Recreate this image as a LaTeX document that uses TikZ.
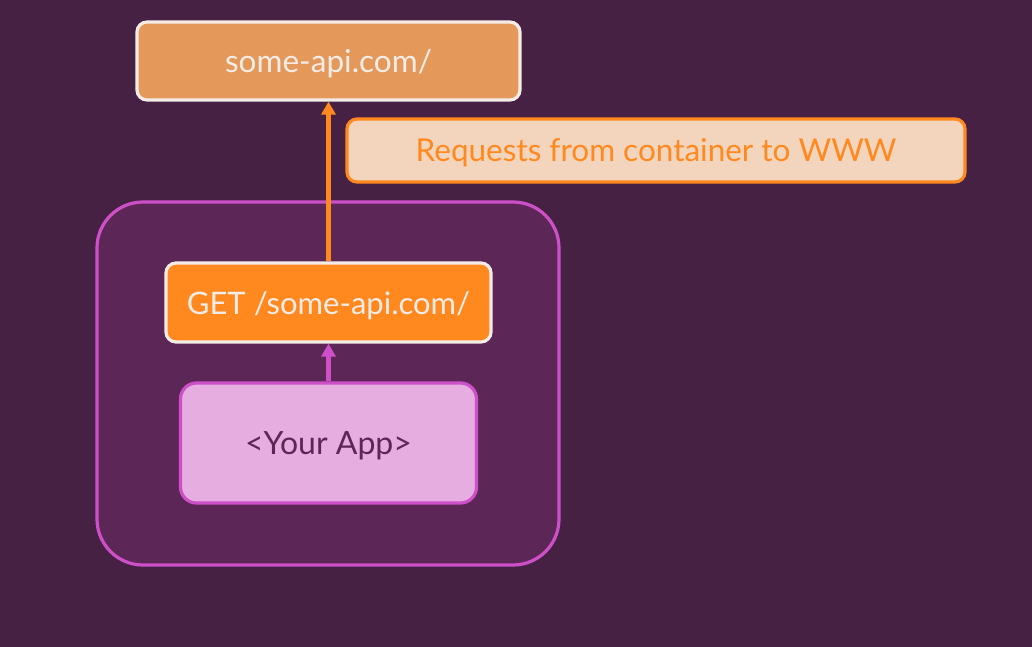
\documentclass[tikz,border=0pt]{standalone}
\usepackage{fontspec}
\setmainfont{Lato}
\usetikzlibrary{arrows.meta}
\definecolor{bgc}{RGB}{70,33,67}
\definecolor{contfill}{RGB}{92,38,87}
\definecolor{pinkline}{RGB}{206,80,200}
\definecolor{appfill}{RGB}{230,174,224}
\definecolor{orangec}{RGB}{255,137,30}
\definecolor{apifill}{RGB}{228,153,90}
\definecolor{labelfill}{RGB}{243,213,190}
\definecolor{whiteline}{RGB}{245,236,232}
\tikzset{
  box/.style={rounded corners=10pt, line width=3.2pt, inner sep=0pt, align=center, text height=23pt, text depth=0pt},
  apibox/.style={box, fill=apifill, draw=whiteline, text=whiteline, font=\fontsize{31.5}{36}\selectfont},
  notebox/.style={box, fill=labelfill, draw=orangec, text=orangec, font=\fontsize{31.5}{36}\selectfont},
  getbox/.style={box, fill=orangec, draw=whiteline, text=whiteline, font=\fontsize{31}{36}\selectfont},
  appbox/.style={box, rounded corners=16pt, fill=appfill, draw=pinkline, text=contfill, font=\fontsize{32}{37}\selectfont},
  contbox/.style={rounded corners=46pt, line width=3.2pt, fill=contfill, draw=pinkline, inner sep=0pt},
  orangearrow/.style={draw=orangec, line width=4.5pt, -{Triangle[length=13pt,width=14pt]}},
  pinkarrow/.style={draw=pinkline, line width=4.5pt, -{Triangle[length=13pt,width=14pt]}}
}
\begin{document}
\begin{tikzpicture}[x=1pt,y=-1pt]
\fill[bgc] (0,0) rectangle (1032,647);
\useasboundingbox (0,0) rectangle (1032,647);
\node[contbox, minimum width=462pt, minimum height=363pt] (container) at (328,383.5) {};
\node[apibox, minimum width=383pt, minimum height=78pt] (api) at (328.5,61) {some-api.com/};
\node[notebox, minimum width=618pt, minimum height=63pt] (note) at (656,150.5) {Requests from container to WWW};
\node[getbox, minimum width=325pt, minimum height=79pt] (get) at (328.5,302.5) {GET /some-api.com/};
\node[appbox, minimum width=296pt, minimum height=120pt] (app) at (328.5,443) {<Your App>};
\draw[orangearrow] (get.north) -- (api.south);
\draw[pinkarrow] (app.north) -- (get.south);
\end{tikzpicture}
\end{document}
